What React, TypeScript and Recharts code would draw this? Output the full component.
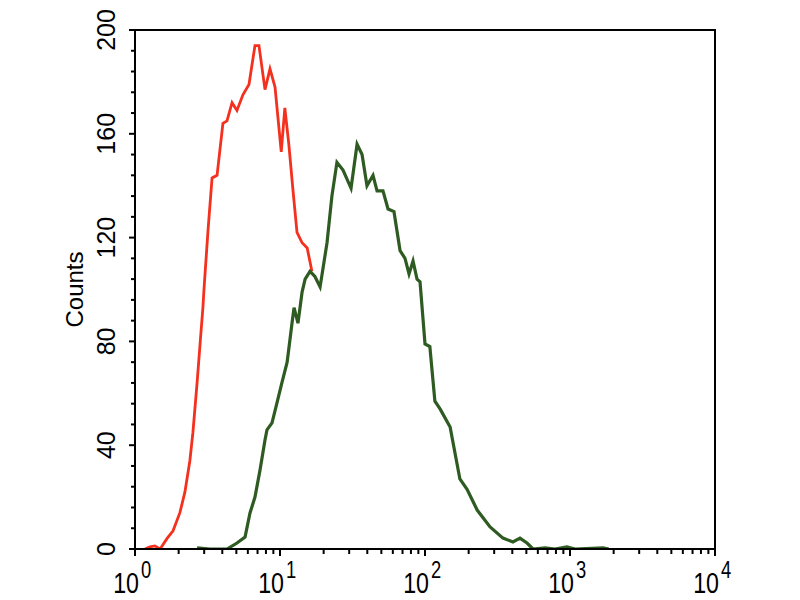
import React from 'react';
import { LineChart, Line, XAxis, YAxis, ReferenceArea } from 'recharts';

// fluorescence intensity (x) and event counts
const redIntensity = [
  1.17, 1.27, 1.37, 1.49, 1.66, 1.83, 2.04, 2.21, 2.39, 2.51, 2.68, 2.81, 2.94, 2.99,
  3.19, 3.4, 3.68, 4.04, 4.31, 4.67, 5.05, 5.55, 6.11, 6.72, 7.16, 7.88, 8.53, 9.24,
  10.2, 10.8, 11.5, 12.3, 13.1, 14.2, 15.4, 16.6,
];
const redCounts = [
  0, 0.8, 1.2, 0, 4, 7, 14, 22, 34, 45, 64, 79, 93, 100,
  123, 143, 144, 164, 165, 172, 169, 175, 179, 194, 194, 177, 185, 178,
  153, 170, 156, 138, 122, 118, 116, 107,
];

const greenIntensity = [
  2.68, 3.29, 4.31, 5.05, 5.74, 6.21, 6.72, 7.28, 7.88, 8.13, 8.81, 9.53, 10.3, 11.2,
  12.1, 12.5, 13.3, 14.2, 14.9, 16.1, 17.4, 18.9, 21.1, 22.8, 24.7, 27.2, 30.9, 34.0,
  36.8, 39.8, 43.8, 46.7, 51.3, 55.6, 61.1, 67.3, 72.8, 77.6, 82.7, 88.1, 92.4, 100,
  108, 117, 127, 149, 161, 174, 195, 229, 281, 345, 404, 452, 505, 556, 673, 788,
  953, 1082, 1690, 1850,
];
const greenCounts = [
  0.4, 0, 0, 2.3, 4.6, 13.9, 20, 30.4, 42, 45.9, 48.6, 56.3, 64, 72,
  87, 93, 87, 99, 104, 107, 105, 101, 118, 136, 149, 146, 139, 156,
  152, 140, 144, 138, 138, 131, 130, 115, 112, 106, 111, 104, 103, 79,
  78, 57, 54, 47, 37, 27, 23, 15, 8.5, 4.2, 2.7, 4.2, 2.3, 0, 0.4, 0,
  0.8, 0, 0.4, 0,
];

const decades = [1, 10, 100, 1000, 10000];
const yMajor = [0, 40, 80, 120, 160, 200];

const xTicks: number[] = [];
decades.slice(0, 4).forEach((d) => {
  for (let m = 1; m < 10; m++) xTicks.push(d * m);
});
xTicks.push(10000);

const yTicks: number[] = [];
for (let v = 0; v <= 200; v += 8) yTicks.push(v);

const redData = redIntensity.map((x, i) => ({ x, count: redCounts[i] }));
const greenData = greenIntensity.map((x, i) => ({ x, count: greenCounts[i] }));

const font = '"Liberation Sans", Arial, sans-serif';

const XTick = (props: any) => {
  const { x, y, payload } = props;
  const v = payload.value;
  const exp = Math.round(Math.log10(v));
  const isMajor = decades.includes(v);
  return (
    <g>
      <line x1={x} x2={x} y1={y} y2={y + (isMajor ? 7 : 5)} stroke="#000" strokeWidth={2} />
      {isMajor && (
        <>
          <text
            transform={`translate(${x + 4},${y + 44}) scale(0.8,1)`}
            textAnchor="end"
            fontFamily={font}
            fontSize={29}
            fill="#000"
          >
            10
          </text>
          <text
            transform={`translate(${x + 6},${y + 29}) scale(0.8,1)`}
            textAnchor="start"
            fontFamily={font}
            fontSize={23}
            fill="#000"
          >
            {exp}
          </text>
        </>
      )}
    </g>
  );
};

const YTick = (props: any) => {
  const { x, y, payload } = props;
  const v = payload.value;
  const isMajor = yMajor.includes(v);
  return (
    <g>
      <line x1={x - (isMajor ? 6 : 4)} x2={x} y1={y} y2={y} stroke="#000" strokeWidth={2} />
      {isMajor && (
        <text
          transform={`translate(${x - 20},${y}) rotate(-90)`}
          textAnchor="middle"
          fontFamily={font}
          fontSize={25}
          fill="#000"
        >
          {v}
        </text>
      )}
    </g>
  );
};

export default function App() {
  return (
    <div style={{ position: 'absolute', left: 0, top: 0, width: 800, height: 600, background: '#fff' }}>
      <LineChart width={800} height={600} margin={{ top: 30, right: 85, bottom: 0, left: 0 }}>
        <XAxis
          dataKey="x"
          type="number"
          scale="log"
          domain={[1, 10000]}
          allowDataOverflow
          ticks={xTicks}
          interval={0}
          tick={<XTick />}
          tickLine={false}
          tickSize={0}
          tickMargin={0}
          height={51}
          axisLine={{ stroke: '#000', strokeWidth: 2 }}
        />
        <YAxis
          type="number"
          domain={[0, 200]}
          allowDataOverflow
          ticks={yTicks}
          interval={0}
          tick={<YTick />}
          tickLine={false}
          tickSize={0}
          tickMargin={0}
          width={135}
          axisLine={{ stroke: '#000', strokeWidth: 2 }}
          label={{
            value: 'Counts',
            angle: -90,
            position: 'insideLeft',
            offset: 74,
            style: { fontFamily: font, fontSize: 24, fill: '#000', textAnchor: 'middle' },
          }}
        />
        <ReferenceArea x1={1} x2={10000} y1={0} y2={200} fill="none" stroke="#000" strokeWidth={2} />
        <Line
          data={redData}
          dataKey="count"
          type="linear"
          stroke="#f4301f"
          strokeWidth={2.8}
          dot={false}
          isAnimationActive={false}
        />
        <Line
          data={greenData}
          dataKey="count"
          type="linear"
          stroke="#2e5b22"
          strokeWidth={3.2}
          dot={false}
          isAnimationActive={false}
        />
      </LineChart>
    </div>
  );
}
